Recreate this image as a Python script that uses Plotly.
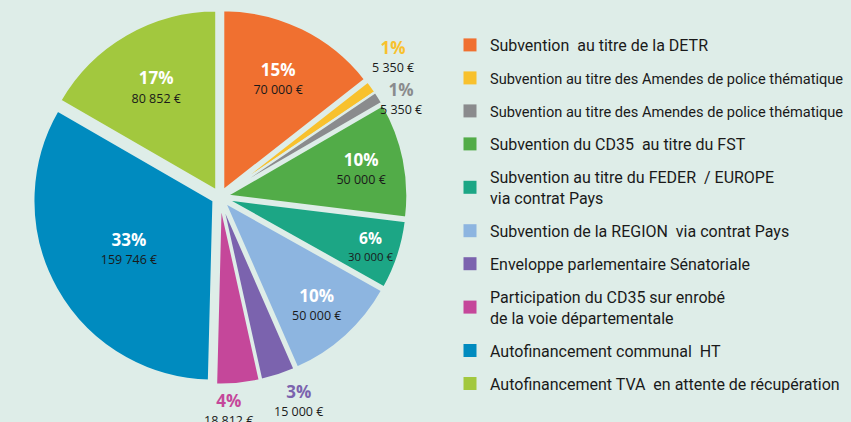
import math
import plotly.graph_objects as go

categories = [
    "Subvention  au titre de la DETR",
    "<span style='font-size:14.6px'>Subvention au titre des Amendes de police thématique</span>",
    "<span style='font-size:14.6px'>Subvention au titre des Amendes de police thématique</span>",
    "Subvention du CD35  au titre du FST",
    "Subvention au titre du FEDER  / EUROPE<br>via contrat Pays",
    "Subvention de la REGION  via contrat Pays",
    "Enveloppe parlementaire Sénatoriale",
    "Participation du CD35 sur enrobé<br>de la voie départementale",
    "Autofinancement communal  HT",
    "Autofinancement TVA  en attente de récupération",
]
values = [70000, 5350, 5350, 50000, 30000, 50000, 15000, 18812, 159746, 80852]
pct_labels = ["15%", "1%", "1%", "10%", "6%", "10%", "3%", "4%", "33%", "17%"]
colors = ["#f07030", "#f8c12d", "#8a8b8d", "#52ac48", "#1ca685",
          "#8db5e0", "#7b63ae", "#c5479a", "#008bbf", "#a2c83e"]
outside = [False, True, True, False, False, False, True, True, False, False]

BG = "#deede8"
W, H = 851, 422
PULL = 0.042
DOM_X = [0.0382, 0.4788]
DOM_Y = [0.0889, 0.9775]


def fmt_amount(v):
    return f"{v:,}".replace(",", " ") + " €"


def label_html(p, v, pc):
    return (f"<span style='font-size:17px;color:{pc}'><b>{p}</b></span><br>"
            f"<span style='font-size:12.5px;color:#1a1a1a'>{fmt_amount(v)}</span>")


texts = [label_html(p, v, "white") if not o else ""
         for p, v, o in zip(pct_labels, values, outside)]

fig = go.Figure()
fig.add_trace(go.Pie(
    values=values,
    labels=[f"s{i}" for i in range(len(values))],
    text=texts,
    textinfo="text",
    textposition=["none" if o else "inside" for o in outside],
    insidetextorientation="horizontal",
    sort=False,
    direction="clockwise",
    rotation=0,
    pull=PULL,
    marker=dict(colors=colors, line=dict(color=BG, width=2)),
    textfont=dict(family="Open Sans", size=14, color="#1a1a1a"),
    domain=dict(x=DOM_X, y=DOM_Y),
    showlegend=False,
    hoverinfo="skip",
))

# outside labels: placed along each slice's mid-angle, derived from the values
pw, ph = W * (DOM_X[1] - DOM_X[0]), H * (DOM_Y[1] - DOM_Y[0])
r = min(pw, ph) / (2 + 2 * PULL)
cx = W * (DOM_X[0] + DOM_X[1]) / 2
cy = H * (1 - (DOM_Y[0] + DOM_Y[1]) / 2)
total = sum(values)
cum = 0
labs = []
for i, v in enumerate(values):
    mid = (cum + v / 2) / total * 2 * math.pi
    cum += v
    if outside[i]:
        d = r * (1 + PULL) + 26
        labs.append([i, cx + d * math.sin(mid), cy - d * math.cos(mid)])

BW, BH = 70, 42
for a, b in zip(labs[:-1], labs[1:]):
    dx, dy = b[1] - a[1], b[2] - a[2]
    if abs(dx) < BW and abs(dy) < BH:
        need_x, need_y = BW - abs(dx), BH - abs(dy)
        if need_y <= need_x:
            s = 1 if dy >= 0 else -1
            a[2] -= s * need_y / 2
            b[2] += s * need_y / 2
        else:
            s = 1 if dx >= 0 else -1
            a[1] -= s * need_x / 2
            b[1] += s * need_x / 2

for i, x, y in labs:
    fig.add_annotation(
        x=x / W, y=1 - y / H, xref="paper", yref="paper",
        text=label_html(pct_labels[i], values[i], colors[i]),
        showarrow=False, xanchor="center", yanchor="middle",
        font=dict(family="Open Sans", size=14, color="#1a1a1a"),
    )

for k, (name, c) in enumerate(zip(categories, colors)):
    fig.add_trace(go.Scatter(
        x=[None], y=[None], mode="markers", name=name, legendgroup=f"g{k}",
        marker=dict(symbol="square", size=13, color=c),
        showlegend=True, hoverinfo="skip",
    ))

fig.update_layout(
    width=W, height=H,
    margin=dict(l=0, r=0, t=0, b=0, autoexpand=False),
    paper_bgcolor=BG, plot_bgcolor=BG,
    xaxis=dict(visible=False), yaxis=dict(visible=False),
    legend=dict(
        x=450 / W, y=1 - 28 / H, xanchor="left", yanchor="top",
        tracegroupgap=9.2, bgcolor="rgba(0,0,0,0)",
        font=dict(family="Roboto", size=16, color="#1a1a1a"),
    ),
)

fig.write_html(
    "out.html",
    config={"displayModeBar": False},
    post_script="document.body.style.margin='0';document.body.style.padding='0';",
)
